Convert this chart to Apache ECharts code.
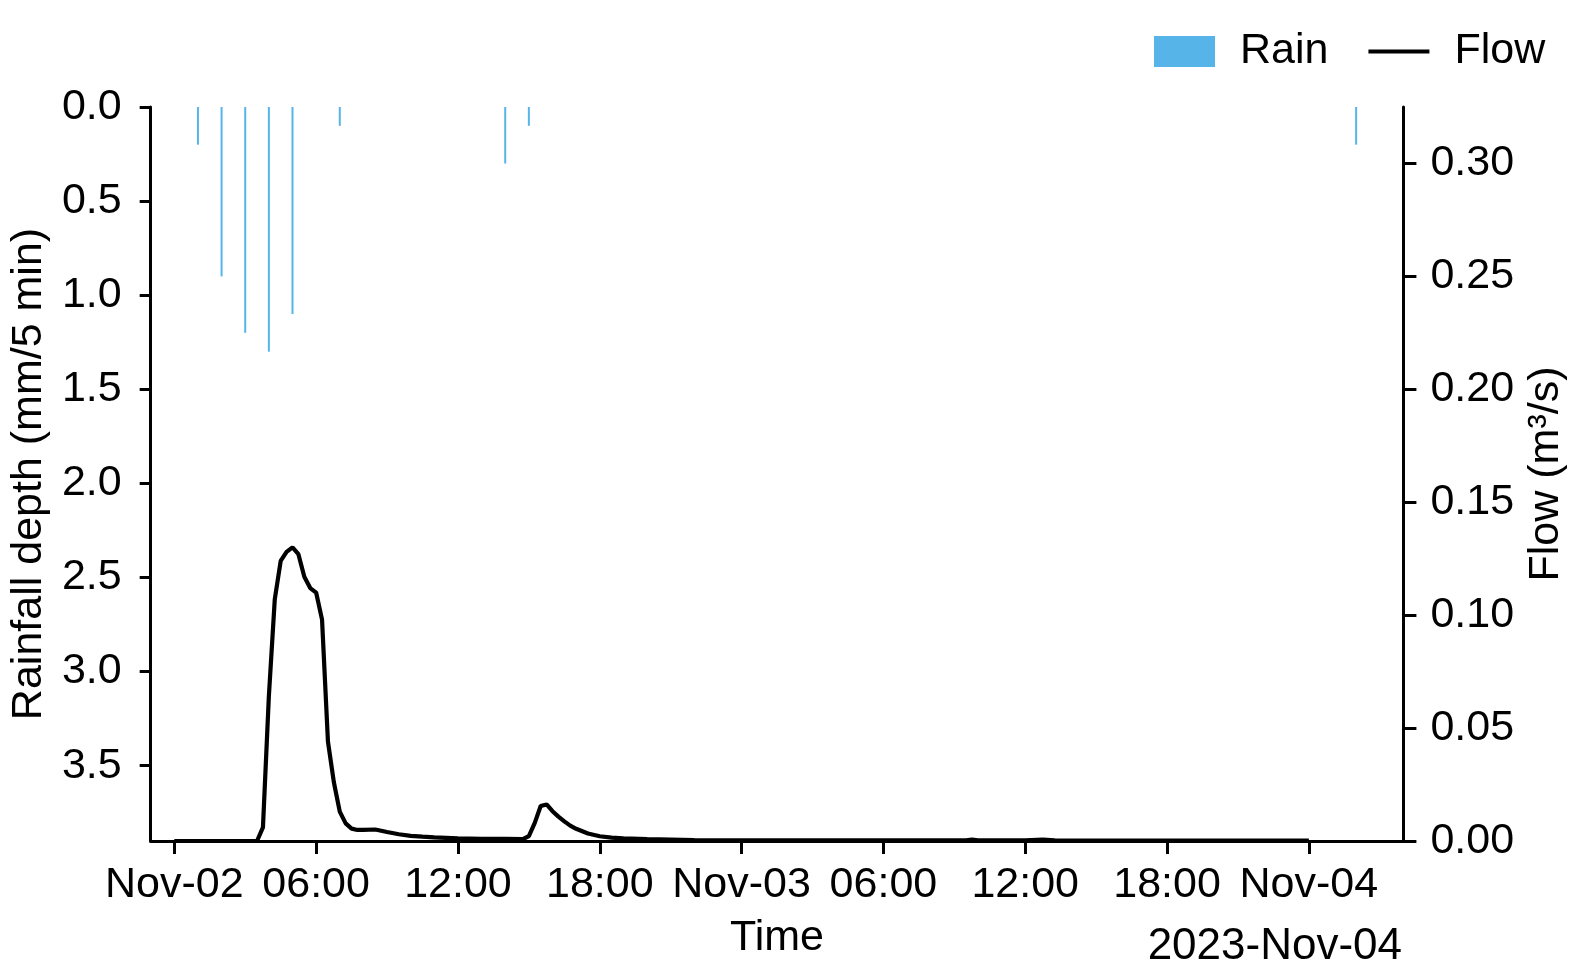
<!DOCTYPE html>
<html>
<head>
  <meta charset="utf-8">
  <title>Rain and flow</title>
  <script src="https://cdn.jsdelivr.net/npm/echarts@6/dist/echarts.min.js"></script>
  <style>
    html, body { margin: 0; padding: 0; background: #fff; }
    #chart { width: 1576px; height: 974px; }
  </style>
</head>
<body>
<div id="chart"></div>
<script type="text/javascript">
  // rainfall, mm per interval
  var rainTimes = ['2023-11-02 01:00', '2023-11-02 02:00', '2023-11-02 03:00', '2023-11-02 04:00',
                   '2023-11-02 05:00', '2023-11-02 07:00', '2023-11-02 14:00', '2023-11-02 15:00',
                   '2023-11-04 02:00'];
  var rainValues = [0.2, 0.9, 1.2, 1.3, 1.1, 0.1, 0.3, 0.1, 0.2];

  // flow, m3/s
  var flowTimes = ['2023-11-02 00:00', '2023-11-02 03:30', '2023-11-02 03:45', '2023-11-02 04:00',
                   '2023-11-02 04:15', '2023-11-02 04:30', '2023-11-02 04:45', '2023-11-02 05:00',
                   '2023-11-02 05:15', '2023-11-02 05:30', '2023-11-02 05:45', '2023-11-02 06:00',
                   '2023-11-02 06:15', '2023-11-02 06:30', '2023-11-02 06:45', '2023-11-02 07:00',
                   '2023-11-02 07:15', '2023-11-02 07:30', '2023-11-02 07:45', '2023-11-02 08:00',
                   '2023-11-02 08:30', '2023-11-02 09:00', '2023-11-02 09:30', '2023-11-02 10:00',
                   '2023-11-02 10:30', '2023-11-02 11:00', '2023-11-02 12:00', '2023-11-02 13:00',
                   '2023-11-02 14:00', '2023-11-02 14:45', '2023-11-02 15:00', '2023-11-02 15:15',
                   '2023-11-02 15:30', '2023-11-02 15:45', '2023-11-02 16:00', '2023-11-02 16:15',
                   '2023-11-02 16:30', '2023-11-02 16:45', '2023-11-02 17:00', '2023-11-02 17:30',
                   '2023-11-02 18:00', '2023-11-02 18:30', '2023-11-02 19:00', '2023-11-02 20:00',
                   '2023-11-02 21:00', '2023-11-02 22:00', '2023-11-03 00:00', '2023-11-03 09:30',
                   '2023-11-03 09:45', '2023-11-03 10:00', '2023-11-03 12:00', '2023-11-03 12:45',
                   '2023-11-03 13:15', '2023-11-04 00:00'];
  var flowValues = [0, 0, 0.006, 0.064,
                    0.107, 0.124, 0.128, 0.130,
                    0.127, 0.117, 0.112, 0.110,
                    0.098, 0.044, 0.026, 0.013,
                    0.0078, 0.0055, 0.0049, 0.0049,
                    0.0051, 0.0040, 0.0030, 0.0023,
                    0.0019, 0.0016, 0.0012, 0.0010,
                    0.0009, 0.0008, 0.0022, 0.0080,
                    0.0155, 0.0162, 0.0132, 0.0108,
                    0.0087, 0.0068, 0.0054, 0.0033,
                    0.0021, 0.0015, 0.0012, 0.0008,
                    0.0006, 0.0004, 0.0003, 0.0003,
                    0.0006, 0.0003, 0.0003, 0.0006,
                    0.0003, 0.0002];

  // axes
  var xStart = '2023-11-01 23:00';
  var xEnd = '2023-11-04 04:00';
  var xTickTimes = ['2023-11-02 00:00', '2023-11-02 06:00', '2023-11-02 12:00', '2023-11-02 18:00',
                    '2023-11-03 00:00', '2023-11-03 06:00', '2023-11-03 12:00', '2023-11-03 18:00',
                    '2023-11-04 00:00'];
  var xTickLabels = ['Nov-02', '06:00', '12:00', '18:00', 'Nov-03', '06:00', '12:00', '18:00', 'Nov-04'];
  var rainTicks = [0, 0.5, 1.0, 1.5, 2.0, 2.5, 3.0, 3.5];
  var flowTicks = [0, 0.05, 0.10, 0.15, 0.20, 0.25, 0.30];
  var rainMax = 3.9;
  var flowMax = 0.325;

  function t(s) { return new Date(s.replace(' ', 'T')).getTime(); }

  var xTickMs = xTickTimes.map(t);
  var rainData = rainTimes.map(function (s, i) { return [t(s), rainValues[i]]; });
  var flowData = flowTimes.map(function (s, i) { return [t(s), flowValues[i]]; });

  var FONT = "'Liberation Sans', Arial, sans-serif";
  var FS = 43;

  var chart = echarts.init(document.getElementById('chart'));
  chart.setOption({
    animation: false,
    textStyle: { fontFamily: FONT, color: '#000' },
    grid: { left: 149, right: 172, top: 107, bottom: 133, containLabel: false },
    legend: {
      left: 1149,
      top: 25,
      itemWidth: 61,
      itemHeight: 31,
      itemGap: 40,
      textStyle: { fontSize: FS, fontFamily: FONT, color: '#000', padding: [0, 0, 0, 20] },
      data: [
        { name: 'Rain', icon: 'rect' },
        { name: 'Flow', icon: 'path://M0,0H64V4H0Z' }
      ]
    },
    xAxis: {
      type: 'value',
      min: t(xStart),
      max: t(xEnd),
      name: 'Time',
      nameLocation: 'middle',
      nameGap: 76,
      nameTextStyle: { fontSize: FS, fontFamily: FONT, color: '#000' },
      axisLine: { show: true, onZero: false, lineStyle: { color: '#000', width: 3 } },
      axisTick: { show: true, length: 13, customValues: xTickMs, lineStyle: { color: '#000', width: 3 } },
      axisLabel: {
        customValues: xTickMs,
        margin: 23,
        fontSize: FS,
        fontFamily: FONT,
        color: '#000',
        formatter: function (val) {
          var i = xTickMs.indexOf(+val);
          return i >= 0 ? xTickLabels[i] : '';
        }
      },
      splitLine: { show: false }
    },
    yAxis: [
      {
        type: 'value',
        position: 'left',
        inverse: true,
        min: 0,
        max: rainMax,
        name: 'Rainfall depth (mm/5 min)',
        nameLocation: 'middle',
        nameGap: 99,
        nameTextStyle: { fontSize: FS, fontFamily: FONT, color: '#000' },
        axisLine: { show: true, onZero: false, lineStyle: { color: '#000', width: 3 } },
        axisTick: { show: true, length: 11, customValues: rainTicks, lineStyle: { color: '#000', width: 3 } },
        axisLabel: {
          customValues: rainTicks,
          margin: 29,
          fontSize: FS,
          fontFamily: FONT,
          color: '#000',
          formatter: function (v) { return (+v).toFixed(1); }
        },
        splitLine: { show: false }
      },
      {
        type: 'value',
        position: 'right',
        min: 0,
        max: flowMax,
        name: 'Flow (m³/s)',
        nameLocation: 'middle',
        nameGap: 110,
        nameTextStyle: { fontSize: FS, fontFamily: FONT, color: '#000' },
        axisLine: { show: true, onZero: false, lineStyle: { color: '#000', width: 3 } },
        axisTick: { show: true, length: 13, customValues: flowTicks, lineStyle: { color: '#000', width: 3 } },
        axisLabel: {
          customValues: flowTicks,
          margin: 27,
          fontSize: FS,
          fontFamily: FONT,
          color: '#000',
          formatter: function (v) { return (+v).toFixed(2); }
        },
        splitLine: { show: false }
      }
    ],
    graphic: [
      {
        type: 'text',
        right: 174,
        top: 925,
        style: { text: '2023-Nov-04', font: '44px ' + FONT, fill: '#000' }
      }
    ],
    series: [
      {
        name: 'Rain',
        type: 'bar',
        yAxisIndex: 0,
        barWidth: 2,
        itemStyle: { color: '#56B4E9' },
        data: rainData
      },
      {
        name: 'Flow',
        type: 'line',
        yAxisIndex: 1,
        symbol: 'none',
        showSymbol: false,
        lineStyle: { color: '#000', width: 4.2 },
        itemStyle: { color: '#000' },
        z: 3,
        data: flowData
      }
    ]
  });
</script>
</body>
</html>
